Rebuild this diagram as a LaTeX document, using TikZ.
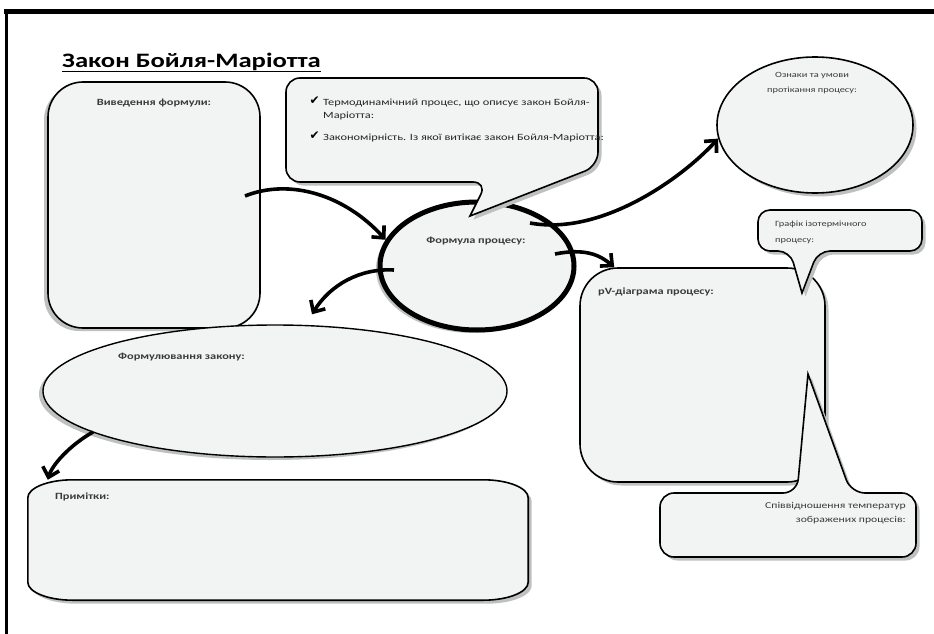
\documentclass[tikz,border=0pt]{standalone}
\usepackage{fontspec}
\setmainfont{Carlito}[FakeStretch=1.3]
\newfontfamily\symfont{DejaVu Sans}
\usetikzlibrary{arrows.meta,shapes.geometric,shadows}

\definecolor{boxfill}{HTML}{F2F3F3}
\definecolor{shade}{HTML}{BEC0C2}
\definecolor{txt}{HTML}{3A3A3A}

\begin{document}
\begin{tikzpicture}[x=1pt, y=-1pt,
  every node/.style={font=\fontsize{9.5}{12}\selectfont\bfseries, text=txt, inner sep=0pt},
  small/.style={font=\fontsize{8}{15}\selectfont},
  card/.style={draw=black, line width=1.6pt, fill=boxfill},
  shR/.style={drop shadow={shadow xshift=3.5pt, shadow yshift=-3.5pt, fill=shade, opacity=1}},
  shL/.style={drop shadow={shadow xshift=-4pt, shadow yshift=-3pt, fill=shade, opacity=1}},
  arr/.style={line width=3.6pt, -{Straight Barb[length=9pt, width=17pt]}}]
  \useasboundingbox (0,0) rectangle (934,634);
  % frame and title
  \draw[line width=5pt] (4,12) -- (934,12);
  \draw[line width=3pt] (6.5,10) -- (6.5,634);
  \node[anchor=base west, font=\fontsize{20.5}{24}\selectfont\bfseries, text=black] (title) at (62,67) {\underline{Закон Бойля-Маріотта}};

  % shapes
  \node[card, shL, rounded corners=35pt, minimum width=212pt, minimum height=246pt] (deriv) at (154,205) {};
  \node[card, shR, ellipse, minimum width=196pt, minimum height=136pt] (ozn) at (815,125) {};
  \node[card, shL, ellipse, line width=5pt, minimum width=194pt, minimum height=128pt] (formula) at (477,266) {};
  \draw[card, shR, rounded corners=14pt] (470,216) -- (598,166) -- (598,78) -- (286,78) -- (286,182) -- (487,182) [sharp corners] -- cycle;
  \node[card, shL, ellipse, line width=1.4pt, minimum width=464pt, minimum height=132pt] (law) at (275,391) {};
  \node[minimum width=500pt, minimum height=120pt] (notes) at (278,540) {};
  \draw[card, shR] ([yshift=-18pt]notes.north west) arc[start angle=180, end angle=90, x radius=45pt, y radius=18pt]
    -- ([xshift=-45pt]notes.north east) arc[start angle=90, end angle=0, x radius=45pt, y radius=18pt]
    -- ([yshift=18pt]notes.south east) arc[start angle=0, end angle=-90, x radius=45pt, y radius=18pt]
    -- ([xshift=45pt]notes.south west) arc[start angle=270, end angle=180, x radius=45pt, y radius=18pt] -- cycle;
  \node[card, shR, rounded corners=38pt, minimum width=245pt, minimum height=214pt] (pv) at (702.5,375) {};
  \draw[card, shR, rounded corners=12pt] (802,293) -- (818,251) -- (922,251) -- (922,210) -- (758,210) -- (758,251) -- (790,251) [sharp corners] -- cycle;
  \draw[card, shR, rounded corners=14pt] (808,374) -- (851,493) -- (916,493) -- (916,557) -- (660,557) -- (660,493) -- (797,493) [sharp corners] -- cycle;

  % texts
  \node (derivtxt) at ([yshift=-22pt]deriv.north) {Виведення формули:};
  \node[anchor=base east, font=\symfont\fontsize{12}{14}\selectfont, text=black] (c1) at (320,104) {✔};
  \node[anchor=base east, font=\symfont\fontsize{12}{14}\selectfont, text=black] (c2) at (320,139) {✔};
  \node[anchor=base west, font=\fontsize{9.5}{12}\selectfont, text=black!85] (q1) at (323,105) {Термодинамічний процес, що описує закон Бойля-};
  \node[anchor=base west, font=\fontsize{9.5}{12}\selectfont, text=black!85] (q2) at (323,118) {Маріотта:};
  \node[anchor=base west, font=\fontsize{9.5}{12}\selectfont, text=black!85] (q3) at (323,140) {Закономірність. Із якої витікає закон Бойля-Маріотта:};
  \node (formtxt) at (476,241) {Формула процесу:};
  \node[small, align=center] (ozntxt) at (812,83) {Ознаки та умови\\протікання процесу:};
  \node[small, anchor=west, align=left, font=\fontsize{8}{16}\selectfont] (graftxt) at (775,232) {Графік ізотермічного\\процесу:};
  \node[anchor=west] (pvtxt) at (598,292) {pV-діаграма процесу:};
  \node[anchor=east, align=right, font=\fontsize{9}{14}\selectfont] (temptxt) at (906,513) {Співвідношення температур\\зображених процесів:};
  \node[anchor=west] (lawtxt) at (118,357) {Формулювання закону:};
  \node[anchor=west] (notestxt) at (55,497) {Примітки:};

  % arrows
  \draw[arr] ([shift={(91,-9)}]deriv.center) .. controls (290,178) and (345,195) .. (formula.164);
  \draw[arr] ([shift={(53,-43)}]formula.center) .. controls (600,236) and (680,180) .. (ozn.188);
  \draw[arr] ([shift={(78,-12)}]formula.center) .. controls (585,248) and (600,255) .. ([xshift=35pt]pv.north west);
  \draw[arr] ([shift={(-83,4)}]formula.center) .. controls (360,268) and (330,285) .. ([xshift=37pt, yshift=10pt]law.north);
  \draw[arr] ([shift={(-182,41)}]law.center) .. controls (70,445) and (52,465) .. ([xshift=20pt]notes.north west);
\end{tikzpicture}
\end{document}
